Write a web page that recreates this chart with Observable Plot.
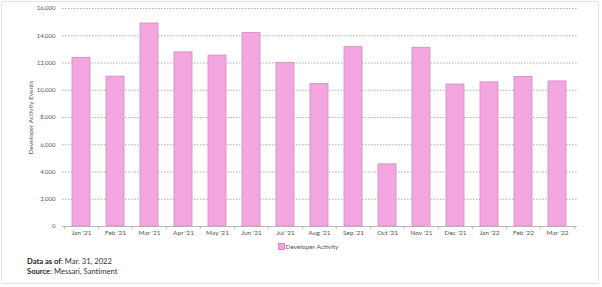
<!DOCTYPE html>
<html>
<head>
<meta charset="utf-8">
<script src="https://cdn.jsdelivr.net/npm/d3@7"></script>
<script src="https://cdn.jsdelivr.net/npm/@observablehq/plot@0.6"></script>
<style>
  html, body { margin: 0; padding: 0; background: #fff; }
  #frame { position: relative; width: 602px; height: 287px; overflow: hidden; font-family: Lato, "Open Sans", sans-serif; }
  #border { position: absolute; left: 1px; top: 1px; width: 598px; height: 283px; border: 1px solid #e4e4e4; box-sizing: border-box; border-radius: 3px; }
  #chart { position: absolute; left: 0; top: 0; }
  #legend { position: absolute; top: 243px; left: 278px; font-size: 6.5px; color: #555; white-space: nowrap; }
  #legend .sw { display: inline-block; width: 4.5px; height: 5px; background: #f4a6e0; border: 0.8px solid #d48cc4; vertical-align: -1px; margin-right: 1px; }
  #footer { position: absolute; left: 27px; top: 256px; font-size: 7.6px; line-height: 10px; color: #333; }
  #footer b { color: #222; }
</style>
</head>
<body>
<div id="frame">
  <div id="border"></div>
  <div id="chart"></div>
  <div id="legend"><span class="sw"></span>Developer Activity</div>
  <div id="footer">
    <div><b>Data as of</b>: Mar. 31, 2022</div>
    <div><b>Source</b>: Messari, Santiment</div>
  </div>
</div>
<script>
const months = ["Jan '21","Feb '21","Mar '21","Apr '21","May '21","Jun '21","Jul '21","Aug '21","Sep '21","Oct '21","Nov '21","Dec '21","Jan '22","Feb '22","Mar '22"];
const developerActivity = [12380, 11000, 14900, 12780, 12550, 14200, 12000, 10450, 13170, 4560, 13120, 10420, 10580, 10980, 10650];
const yTicks = [0, 2000, 4000, 6000, 8000, 10000, 12000, 14000, 16000];

const data = months.map((m, i) => ({month: m, value: developerActivity[i]}));

const W = 602, ML = 62, MR = 25;
const step = (W - ML - MR) / months.length;

const chart = Plot.plot({
  width: W,
  height: 240,
  marginTop: 8,
  marginBottom: 14,
  marginLeft: ML,
  marginRight: MR,
  style: {fontFamily: "Lato, 'Open Sans', sans-serif", fontSize: "6.5px", color: "#555", background: "transparent"},
  x: {domain: months, paddingInner: 0.47, paddingOuter: 0.235},
  y: {domain: [0, 16000]},
  marks: [
    Plot.gridY(yTicks.filter(d => d > 0), {stroke: "#a0a0a0", strokeOpacity: 1, strokeDasharray: "1.6,1.4", strokeWidth: 0.8}),
    Plot.barY(data, {x: "month", y: "value", fill: "#f4a6e0", stroke: "#d08cc0", strokeWidth: 0.8}),
    Plot.ruleY([0], {stroke: "#a8a8a8", strokeWidth: 0.8}),
    Plot.ruleX(months, {y1: 0, y2: -220, dx: -step / 2, stroke: "#a8a8a8", strokeWidth: 0.8}),
    Plot.ruleX([months[months.length - 1]], {y1: 0, y2: -220, dx: step / 2, stroke: "#a8a8a8", strokeWidth: 0.8}),
    Plot.axisY({ticks: yTicks, tickFormat: d3.format(","), tickSize: 0, tickPadding: 7, fontSize: 6, label: null, fill: "#555"}),
    Plot.axisY({ticks: [], tickSize: 0, label: "Developer Activity Events", labelAnchor: "center", labelArrow: "none", labelOffset: 34, fill: "#555"}),
    Plot.axisX({tickSize: 0, tickPadding: 4, label: null, fill: "#555"})
  ]
});
document.getElementById("chart").appendChild(chart);
</script>
</body>
</html>
